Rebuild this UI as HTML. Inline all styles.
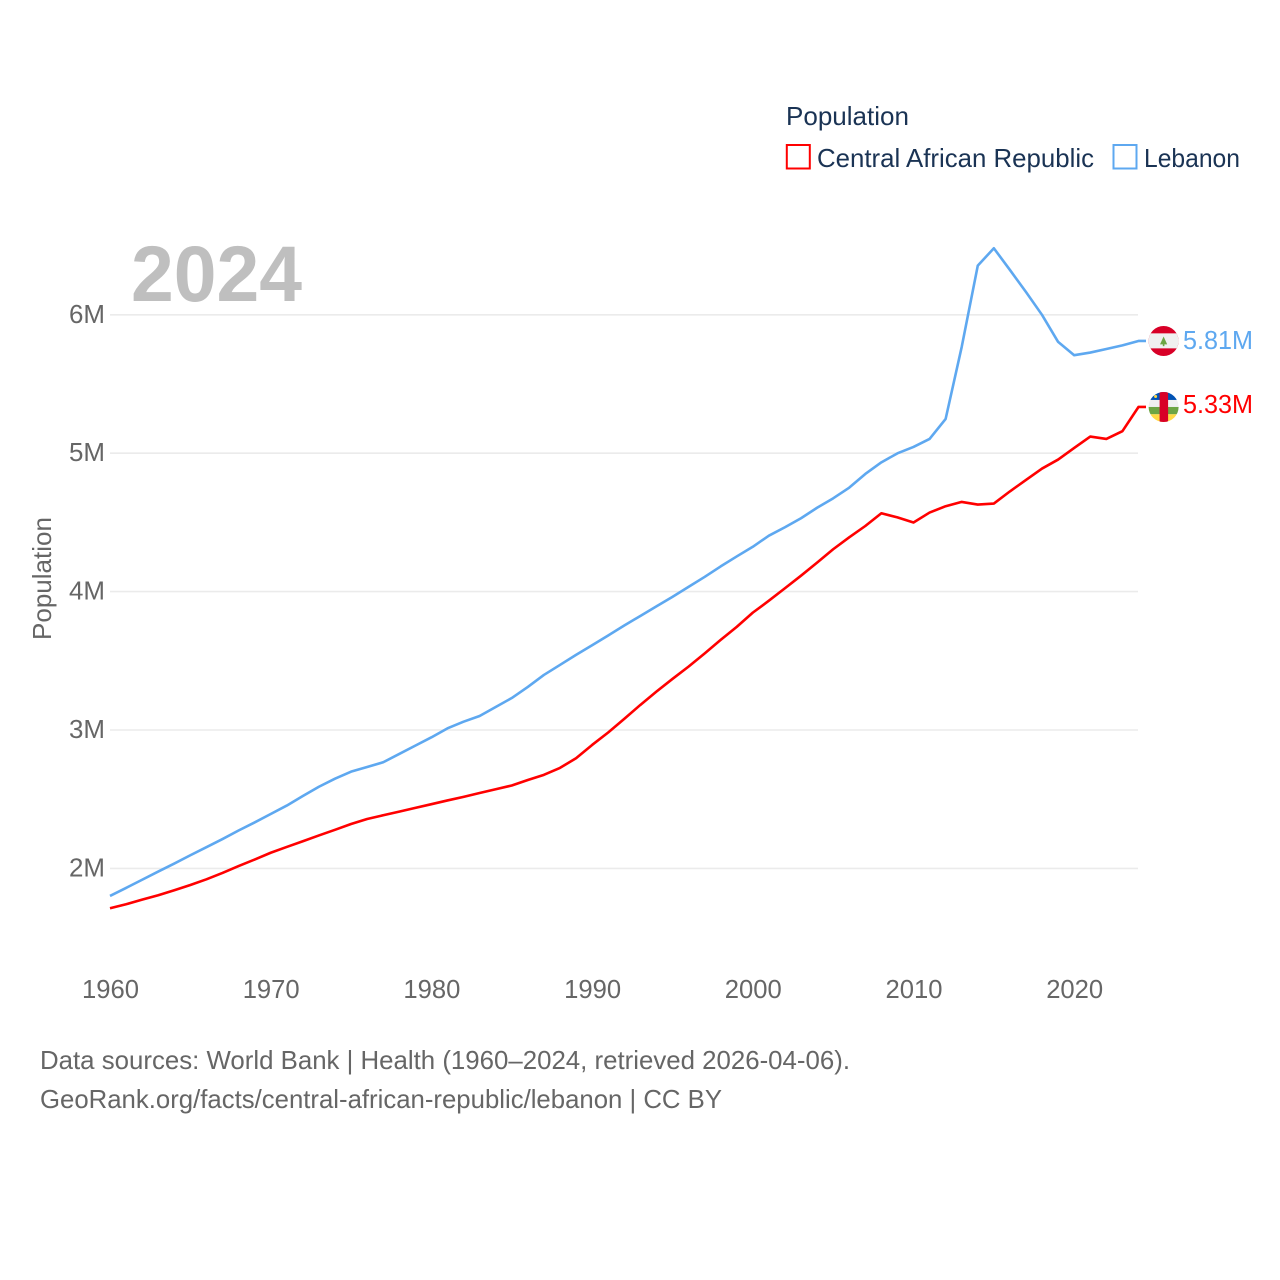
<!DOCTYPE html>
<html lang="en">
<head>
<meta charset="utf-8">
<title>Population: Central African Republic and Lebanon</title>
<style>
html,body{margin:0;padding:0;background:#fff;}
svg{display:block;}
text{font-family:"Liberation Sans",sans-serif;}
</style>
</head>
<body>
<svg id="chart" xmlns="http://www.w3.org/2000/svg" width="1280" height="1280" viewBox="0 0 1280 1280">
  <defs>
    <clipPath id="flag-clip-lb"><circle cx="0" cy="0" r="15"></circle></clipPath>
    <clipPath id="flag-clip-cf"><circle cx="0" cy="0" r="15"></circle></clipPath>
  </defs>
  <rect x="0" y="0" width="1280" height="1280" fill="#ffffff"></rect>
  <g id="grid"></g>
  <g id="yticks"></g>
  <g id="xticks"></g>
  <text x="131" y="301" font-size="79" font-weight="700" fill="#bfbfbf" textLength="171" lengthAdjust="spacingAndGlyphs">2024</text>
  <text transform="translate(51,640) rotate(-90)" font-size="26" fill="#666666" textLength="123" lengthAdjust="spacingAndGlyphs">Population</text>
  <path id="line-caf" fill="none" stroke="#ff0000" stroke-width="2.6" stroke-linejoin="round"></path>
  <path id="line-lb" fill="none" stroke="#5ea8f0" stroke-width="2.6" stroke-linejoin="round"></path>

  <g id="flag-lb">
    <g clip-path="url(#flag-clip-lb)">
      <rect x="-16" y="-16" width="32" height="32" fill="#d80027"></rect>
      <rect x="-16" y="-7.6" width="32" height="15" fill="#f0f0f0"></rect>
      <polygon points="0,-4.5 3.6,3.4 -3.6,3.4" fill="#6da544"></polygon>
      <rect x="-0.8" y="3" width="1.6" height="2.2" fill="#6da544"></rect>
    </g>
  </g>
  <g id="flag-cf">
    <g clip-path="url(#flag-clip-cf)">
      <rect x="-16" y="-16" width="32" height="9" fill="#0052b4"></rect>
      <rect x="-16" y="-7" width="32" height="7" fill="#f0f0f0"></rect>
      <rect x="-16" y="0" width="32" height="7.3" fill="#6da544"></rect>
      <rect x="-16" y="7.3" width="32" height="9" fill="#ffda44"></rect>
      <rect x="-4" y="-16" width="8.5" height="32" fill="#d80027"></rect>
      <circle cx="-8" cy="-10.5" r="1.5" fill="#ffda44"></circle>
    </g>
  </g>
  <text id="label-lb" x="1183" font-size="26" fill="#5ea8f0" textLength="70" lengthAdjust="spacingAndGlyphs"></text>
  <text id="label-caf" x="1183" font-size="26" fill="#ff0000" textLength="70" lengthAdjust="spacingAndGlyphs"></text>

  <g>
    <text x="786" y="125" font-size="26" fill="#1a3354" textLength="123" lengthAdjust="spacingAndGlyphs">Population</text>
    <g>
      <rect x="786.8" y="145" width="23" height="23.5" fill="none" stroke="#ff0000" stroke-width="2"></rect>
      <text x="817" y="167" font-size="26" fill="#1a3354" textLength="277" lengthAdjust="spacingAndGlyphs">Central African Republic</text>
    </g>
    <g>
      <rect x="1113.5" y="145" width="23" height="23.5" fill="none" stroke="#5ea8f0" stroke-width="2"></rect>
      <text x="1144" y="167" font-size="26" fill="#1a3354" textLength="96" lengthAdjust="spacingAndGlyphs">Lebanon</text>
    </g>
  </g>

  <text x="40" y="1069" font-size="26" fill="#666666" textLength="810" lengthAdjust="spacingAndGlyphs">Data sources: World Bank | Health (1960–2024, retrieved 2026-04-06).</text>
  <text x="40" y="1108" font-size="26" fill="#666666" textLength="682" lengthAdjust="spacingAndGlyphs">GeoRank.org/facts/central-african-republic/lebanon | CC BY</text>
</svg>
<script>
const startYear = 1960;
const yTickValues = [2, 3, 4, 5, 6];
const yTickLabels = ["2M", "3M", "4M", "5M", "6M"];
const xTickValues = [1960, 1970, 1980, 1990, 2000, 2010, 2020];
const xTickLabels = ["1960", "1970", "1980", "1990", "2000", "2010", "2020"];
const lebanonValues = [
  1.801, 1.859, 1.918, 1.977, 2.035, 2.095, 2.153, 2.212, 2.274, 2.332,
  2.393, 2.454, 2.523, 2.590, 2.648, 2.699, 2.733, 2.767, 2.827, 2.887,
  2.947, 3.012, 3.060, 3.101, 3.166, 3.231, 3.311, 3.398, 3.470, 3.543,
  3.612, 3.683, 3.755, 3.824, 3.893, 3.962, 4.034, 4.106, 4.182, 4.254,
  4.324, 4.404, 4.465, 4.530, 4.606, 4.674, 4.751, 4.850, 4.934, 4.999,
  5.045, 5.103, 5.248, 5.768, 6.355, 6.481, 6.324, 6.165, 5.999, 5.804,
  5.708, 5.727, 5.753, 5.779, 5.811
];
const centralAfricanRepublicValues = [
  1.712, 1.741, 1.774, 1.806, 1.842, 1.880, 1.921, 1.967, 2.017, 2.064,
  2.113, 2.155, 2.196, 2.238, 2.279, 2.321, 2.357, 2.384, 2.410, 2.437,
  2.464, 2.491, 2.517, 2.545, 2.572, 2.599, 2.639, 2.676, 2.726, 2.796,
  2.892, 2.982, 3.080, 3.181, 3.277, 3.369, 3.458, 3.553, 3.651, 3.745,
  3.848, 3.934, 4.024, 4.115, 4.209, 4.306, 4.392, 4.474, 4.566, 4.536,
  4.499, 4.571, 4.617, 4.648, 4.629, 4.636, 4.724, 4.807, 4.889, 4.954,
  5.038, 5.120, 5.103, 5.159, 5.334
];

const SVG_NS = "http://www.w3.org/2000/svg";
function xScale(year) { return 110 + (year - 1960) * 16.07; }
function yScale(value) { return 868.4 - (value - 2) * 138.4; }

function linePath(values) {
  let d = "";
  values.forEach(function (v, i) {
    d += (i === 0 ? "M" : "L") + xScale(startYear + i).toFixed(2) + " " + yScale(v).toFixed(2);
  });
  const last = values[values.length - 1];
  d += "L1146 " + yScale(last).toFixed(2);
  return d;
}

document.getElementById("line-lb").setAttribute("d", linePath(lebanonValues));
document.getElementById("line-caf").setAttribute("d", linePath(centralAfricanRepublicValues));

const gridGroup = document.getElementById("grid");
const yTickGroup = document.getElementById("yticks");
const xTickGroup = document.getElementById("xticks");

yTickValues.forEach(function (v, i) {
  const gridLine = document.createElementNS(SVG_NS, "line");
  
  
  gridLine.setAttribute("x1", 110);
  gridLine.setAttribute("x2", 1138);
  gridLine.setAttribute("y1", yScale(v));
  gridLine.setAttribute("y2", yScale(v));
  gridLine.setAttribute("stroke", "#ebebeb");
  gridLine.setAttribute("stroke-width", "1.6");
  gridGroup.appendChild(gridLine);

  const tick = document.createElementNS(SVG_NS, "text");
  
  
  tick.setAttribute("x", 69);
  tick.setAttribute("y", yScale(v) + 8);
  tick.setAttribute("font-size", "26");
  tick.setAttribute("fill", "#666666");
  tick.setAttribute("textLength", "36");
  tick.setAttribute("lengthAdjust", "spacingAndGlyphs");
  tick.textContent = yTickLabels[i];
  yTickGroup.appendChild(tick);
});

xTickValues.forEach(function (year, i) {
  const tick = document.createElementNS(SVG_NS, "text");
  
  
  tick.setAttribute("x", xScale(year) - 28);
  tick.setAttribute("y", 998);
  tick.setAttribute("font-size", "26");
  tick.setAttribute("fill", "#666666");
  tick.setAttribute("textLength", "57");
  tick.setAttribute("lengthAdjust", "spacingAndGlyphs");
  tick.textContent = xTickLabels[i];
  xTickGroup.appendChild(tick);
});

const lastLb = lebanonValues[lebanonValues.length - 1];
const lastCaf = centralAfricanRepublicValues[centralAfricanRepublicValues.length - 1];
document.getElementById("flag-lb").setAttribute("transform", "translate(1163.6," + yScale(lastLb) + ")");
document.getElementById("flag-cf").setAttribute("transform", "translate(1163.6," + yScale(lastCaf) + ")");
const labelLb = document.getElementById("label-lb");
labelLb.setAttribute("y", yScale(lastLb) + 8);
labelLb.textContent = lastLb.toFixed(2) + "M";
const labelCaf = document.getElementById("label-caf");
labelCaf.setAttribute("y", yScale(lastCaf) + 6);
labelCaf.textContent = lastCaf.toFixed(2) + "M";
</script>
</body>
</html>
